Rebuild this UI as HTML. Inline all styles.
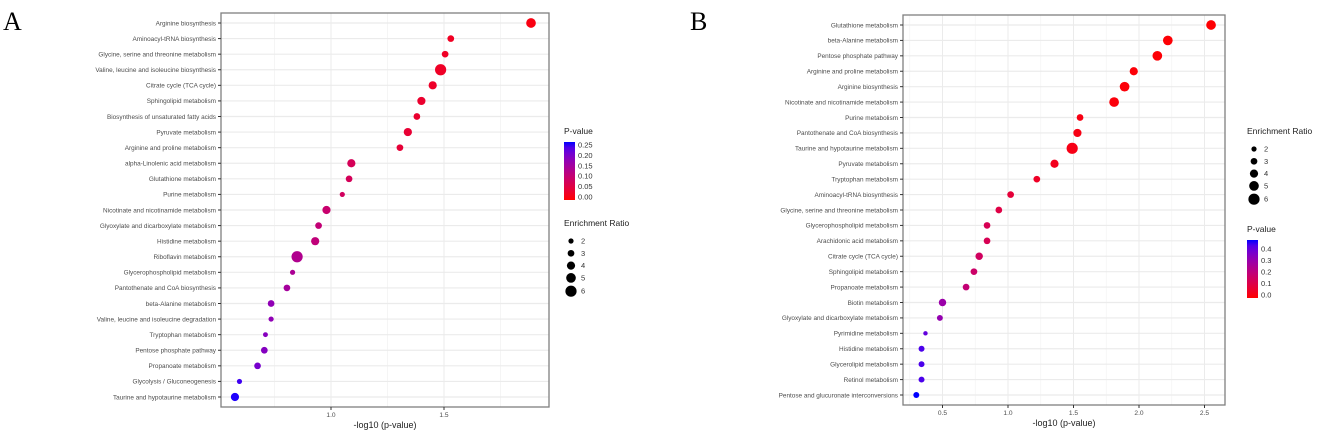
<!DOCTYPE html>
<html><head><meta charset="utf-8"><style>
body{margin:0;background:#fff;width:1325px;height:435px;overflow:hidden}
svg{display:block;font-family:"Liberation Sans",sans-serif}
</style></head><body>
<svg id="chart" width="1325" height="435"></svg>
<script>
const catsA=["Arginine biosynthesis","Aminoacyl-tRNA biosynthesis","Glycine, serine and threonine metabolism","Valine, leucine and isoleucine biosynthesis","Citrate cycle (TCA cycle)","Sphingolipid metabolism","Biosynthesis of unsaturated fatty acids","Pyruvate metabolism","Arginine and proline metabolism","alpha-Linolenic acid metabolism","Glutathione metabolism","Purine metabolism","Nicotinate and nicotinamide metabolism","Glyoxylate and dicarboxylate metabolism","Histidine metabolism","Riboflavin metabolism","Glycerophospholipid metabolism","Pantothenate and CoA biosynthesis","beta-Alanine metabolism","Valine, leucine and isoleucine degradation","Tryptophan metabolism","Pentose phosphate pathway","Propanoate metabolism","Glycolysis / Gluconeogenesis","Taurine and hypotaurine metabolism"];
const valsA=[1.885,1.53,1.505,1.485,1.45,1.40,1.38,1.34,1.305,1.09,1.08,1.05,0.98,0.945,0.93,0.85,0.83,0.805,0.735,0.735,0.71,0.705,0.675,0.595,0.575];
const ratioA=[5,3,3,6,4,4,3,4,3,4,3,2,4,3,4,6,2,3,3,2,1.8,3,3,2,4];
const catsB=["Glutathione metabolism","beta-Alanine metabolism","Pentose phosphate pathway","Arginine and proline metabolism","Arginine biosynthesis","Nicotinate and nicotinamide metabolism","Purine metabolism","Pantothenate and CoA biosynthesis","Taurine and hypotaurine metabolism","Pyruvate metabolism","Tryptophan metabolism","Aminoacyl-tRNA biosynthesis","Glycine, serine and threonine metabolism","Glycerophospholipid metabolism","Arachidonic acid metabolism","Citrate cycle (TCA cycle)","Sphingolipid metabolism","Propanoate metabolism","Biotin metabolism","Glyoxylate and dicarboxylate metabolism","Pyrimidine metabolism","Histidine metabolism","Glycerolipid metabolism","Retinol metabolism","Pentose and glucuronate interconversions"];
const valsB=[2.55,2.22,2.14,1.96,1.89,1.81,1.55,1.53,1.49,1.355,1.22,1.02,0.93,0.84,0.84,0.78,0.74,0.68,0.50,0.48,0.37,0.34,0.34,0.34,0.30];
const ratioB=[5,5,5,4,5,5,3,4,6,4,3,3,3,3,3,3.5,3,3,3.5,2.5,1.5,2.5,2.5,2.5,2.5];
const ticksA=[1.0,1.5];
const ticksB=[0.5,1.0,1.5,2.0,2.5];
const legRatios=[2,3,4,5,6];
const pTicksA=["0.25","0.20","0.15","0.10","0.05","0.00"];
const pTicksB=["0.4","0.3","0.2","0.1","0.0"];

const NS="http://www.w3.org/2000/svg";
const svg=document.getElementById('chart');
function mk(tag,attrs,parent){const e=document.createElementNS(NS,tag);for(const k in attrs)e.setAttribute(k,attrs[k]);(parent||svg).appendChild(e);return e;}
function rad(r){return 1.1+0.75*r;}
function colT(t){t=Math.max(0,Math.min(1,t));return `rgb(${Math.round(255*Math.pow(1-t,0.5))},0,${Math.round(255*Math.pow(t,0.9))})`;}
function col(p,pmax){return colT(p/pmax);}

const defs=mk('defs',{});
const g=mk('linearGradient',{id:'grad',x1:0,y1:1,x2:0,y2:0},defs);
for(let i=0;i<=10;i++){mk('stop',{offset:String(i/10),'stop-color':colT(i/10)},g);}

function panel(o){
  const grp=mk('g',{});
  
  
  const L=o.left,R=o.right,T=o.top,B=o.bottom;
  const xs=v=>o.x1px+(v-o.x1)*o.ppu;
  const n=o.cats.length;const y0=o.top+10,step=(B-10-y0)/(n-1);
  const ys=i=>y0+i*step;
  for(let v=o.minorStart;v<=o.xmax;v+=0.5){const x=xs(v);if(x>L&&x<R){mk('line',{x1:x,x2:x,y1:T,y2:B,stroke:'#f3f3f3','stroke-width':0.8},grp);}}
  o.ticks.forEach(v=>{const x=xs(v);mk('line',{x1:x,x2:x,y1:T,y2:B,stroke:'#ebebeb','stroke-width':1},grp);});
  o.cats.forEach((c,i)=>{const y=ys(i);mk('line',{x1:L,x2:R,y1:y,y2:y,stroke:'#ebebeb','stroke-width':1.2},grp);});
  const box=mk('rect',{x:L,y:T,width:R-L,height:B-T,fill:'none',stroke:'#7f7f7f','stroke-width':1.3},grp);
  
  
  o.cats.forEach((c,i)=>{const y=ys(i);
    mk('line',{x1:L-3,x2:L,y1:y,y2:y,stroke:'#333','stroke-width':1},grp);
    const t=mk('text',{x:L-5,y:y+2.3,'text-anchor':'end','font-size':6.4,fill:'#4d4d4d'},grp);t.textContent=c;
    
    
  });
  o.ticks.forEach(v=>{const x=xs(v);mk('line',{x1:x,x2:x,y1:B,y2:B+3,stroke:'#333'},grp);
    const t=mk('text',{x:x,y:B+10,'text-anchor':'middle','font-size':6.6,fill:'#4d4d4d'},grp);t.textContent=v.toFixed(1);
    
    
  });
  const xt=mk('text',{x:(L+R)/2,y:B+21,'text-anchor':'middle','font-size':9,fill:'#222'},grp);xt.textContent='-log10 (p-value)';
  
  
  o.vals.forEach((v,i)=>{const p=Math.pow(10,-v);
    const c=mk('circle',{cx:xs(v),cy:ys(i),r:rad(o.ratios[i]),fill:col(p,o.pmax)},grp);
    
    
  });
  const lt=mk('text',{x:o.letterX,y:30,'font-size':26,'font-family':'Liberation Serif, serif',fill:'#000'},grp);lt.textContent=o.letter;
  
  
  function pLegend(x,y,labels){
    const t=mk('text',{x:x,y:y,'font-size':8.5,fill:'#222'},grp);t.textContent='P-value';
    
    
    const bar=mk('rect',{x:x,y:y+8,width:11,height:58,fill:'url(#grad)'},grp);
    
    
    labels.forEach((s,i)=>{const yy=y+11+i*(52/(labels.length-1))+(o.letter==='B'?6:0)*(1-i/(labels.length-1));
      const tt=mk('text',{x:x+14,y:yy+2.5,'font-size':7.5,fill:'#333'},grp);tt.textContent=s;
      
      });
  }
  function rLegend(x,y){
    const t=mk('text',{x:x,y:y,'font-size':8.5,fill:'#222'},grp);t.textContent='Enrichment Ratio';
    
    
    legRatios.forEach((r,i)=>{const yy=y+15+i*12.3+(i>=4?1:0);
      const c=mk('circle',{cx:x+7,cy:yy,r:rad(r),fill:'#000'},grp);
      
      
      const tt=mk('text',{x:x+17,y:yy+2.5,'font-size':7.5,fill:'#333'},grp);tt.textContent=r;
      
      });
  }
  o.legends(pLegend,rLegend);
}
panel({name:'panel-a',letter:'A',letterX:3,cats:catsA,vals:valsA,ratios:ratioA,ticks:ticksA,left:221,right:549,top:13,bottom:407,
  x1:1.0,x1px:331,ppu:226,minorStart:0.25,xmax:2.0,pmax:0.27,
  legends:(p,r)=>{p(564,134,pTicksA);r(564,226);}});
panel({name:'panel-b',letter:'B',letterX:690,cats:catsB,vals:valsB,ratios:ratioB,ticks:ticksB,left:903,right:1225,top:15,bottom:405,
  x1:1.0,x1px:1008,ppu:131,minorStart:0.25,xmax:3.0,pmax:0.5,
  legends:(p,r)=>{r(1247,134);p(1247,232,pTicksB);}});
</script>
</body></html>
